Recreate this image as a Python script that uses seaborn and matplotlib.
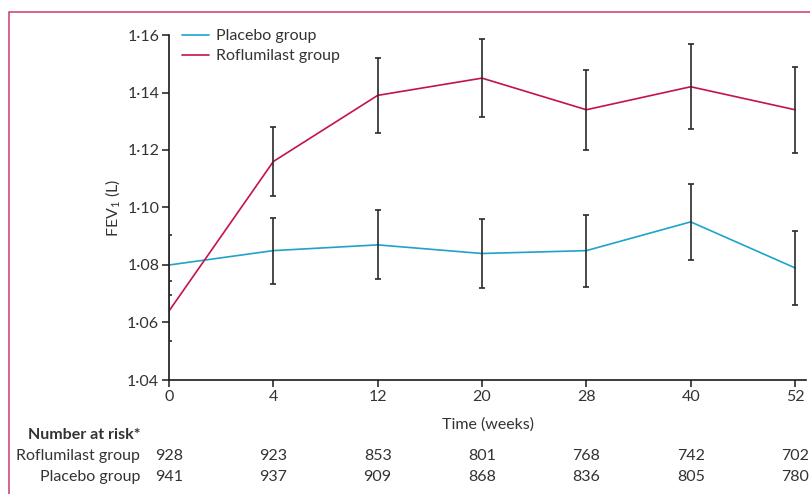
import numpy as np
import pandas as pd
import matplotlib
matplotlib.use("Agg")
import matplotlib.pyplot as plt
import matplotlib.transforms as mtransforms
from matplotlib.patches import Rectangle
from matplotlib.ticker import FixedLocator, FuncFormatter
import seaborn as sns

# Visit weeks (plotted at evenly spaced positions)
weeks = ["0", "4", "12", "20", "28", "40", "52"]

# Mean FEV1 (L) and error half-widths per group
placebo_mean = [1.080, 1.085, 1.087, 1.084, 1.085, 1.095, 1.079]
placebo_err = [0.0105, 0.0115, 0.012, 0.012, 0.0125, 0.0133, 0.013]
roflumilast_mean = [1.064, 1.116, 1.139, 1.145, 1.134, 1.142, 1.134]
roflumilast_err = [0.0105, 0.012, 0.013, 0.0135, 0.014, 0.0147, 0.015]

# Number at risk table
risk_roflumilast = [928, 923, 853, 801, 768, 742, 702]
risk_placebo = [941, 937, 909, 868, 836, 805, 780]

y_ticks = [1.04, 1.06, 1.08, 1.10, 1.12, 1.14, 1.16]

placebo_color = "#1fa3c9"
roflumilast_color = "#c4124c"
text_color = "#333333"
fs = 11.5

sns.set_theme(style="white")
plt.rcParams["font.family"] = ["Lato", "DejaVu Sans"]
plt.rcParams["mathtext.fontset"] = "custom"
plt.rcParams["mathtext.rm"] = "Lato"
plt.rcParams["mathtext.it"] = "Lato"

pos = np.arange(len(weeks))
df = pd.DataFrame({
    "pos": np.concatenate([pos, pos]),
    "fev1": placebo_mean + roflumilast_mean,
    "group": ["Placebo group"] * len(weeks) + ["Roflumilast group"] * len(weeks),
})

fig = plt.figure(figsize=(8.10, 4.94), dpi=100)
ax = fig.add_axes([169 / 810, 1 - 380 / 494, (806 - 169) / 810, (380 - 35) / 494])

sns.lineplot(data=df, x="pos", y="fev1", hue="group",
             palette={"Placebo group": placebo_color, "Roflumilast group": roflumilast_color},
             linewidth=1.2, ax=ax, zorder=2)

for mean, err in ((placebo_mean, placebo_err), (roflumilast_mean, roflumilast_err)):
    ax.errorbar(pos, mean, yerr=err, fmt="none", ecolor="#2a2a2a",
                elinewidth=1.2, capsize=2.4, capthick=1.2, zorder=3)

ax.set_xlim(0, 6.105)
ax.set_ylim(1.04, 1.16)
ax.yaxis.set_major_locator(FixedLocator(y_ticks))
ax.yaxis.set_major_formatter(FuncFormatter(lambda v, p: f"{v:.2f}".replace(".", "\u00b7")))
ax.set_xticks(pos)
ax.set_xticklabels(weeks)

for side in ("top", "right"):
    ax.spines[side].set_visible(False)
for side in ("left", "bottom"):
    ax.spines[side].set_color("#1a1a1a")
    ax.spines[side].set_linewidth(1.2)

ax.tick_params(axis="both", which="major", direction="out", length=5, width=1.1,
               color="#1a1a1a", labelsize=fs, labelcolor=text_color, pad=2,
               left=True, bottom=True)

ax.set_xlabel("Time (weeks)", fontsize=fs, color=text_color, labelpad=10)
ax.set_ylabel("FEV$_1$ (L)", fontsize=fs, color=text_color, labelpad=4)

leg = ax.legend(loc="upper left", bbox_to_anchor=(182 / 810, 1 - 29 / 494),
                bbox_transform=fig.transFigure, frameon=False, fontsize=fs,
                handlelength=1.7, handletextpad=0.4, labelspacing=0.38,
                borderaxespad=0, borderpad=0)
for t in leg.get_texts():
    t.set_color(text_color)
for h in leg.get_lines():
    h.set_linewidth(1.2)

# Number at risk table
fig.text(140 / 810, 1 - 435 / 494, "Number at risk*", ha="right", va="center",
         fontsize=fs, fontweight="bold", color=text_color)
row_y = [1 - 456 / 494, 1 - 477 / 494]
row_labels = ["Roflumilast group", "Placebo group"]
trans = mtransforms.blended_transform_factory(ax.transData, fig.transFigure)
for y, label, counts in zip(row_y, row_labels, (risk_roflumilast, risk_placebo)):
    fig.text(140 / 810, y, label, ha="right", va="center", fontsize=fs, color=text_color)
    for p, n in zip(pos, counts):
        ax.text(p, y, str(n), transform=trans, ha="center", va="center",
                fontsize=fs, color=text_color, clip_on=False)

# Page frame
fig.patches.append(Rectangle((8.5 / 810, -0.1), 1.2, 1.1 - 12.5 / 494,
                             transform=fig.transFigure, fill=False,
                             edgecolor="#cc3a66", linewidth=1.1))

fig.savefig("out.png", dpi=100)
